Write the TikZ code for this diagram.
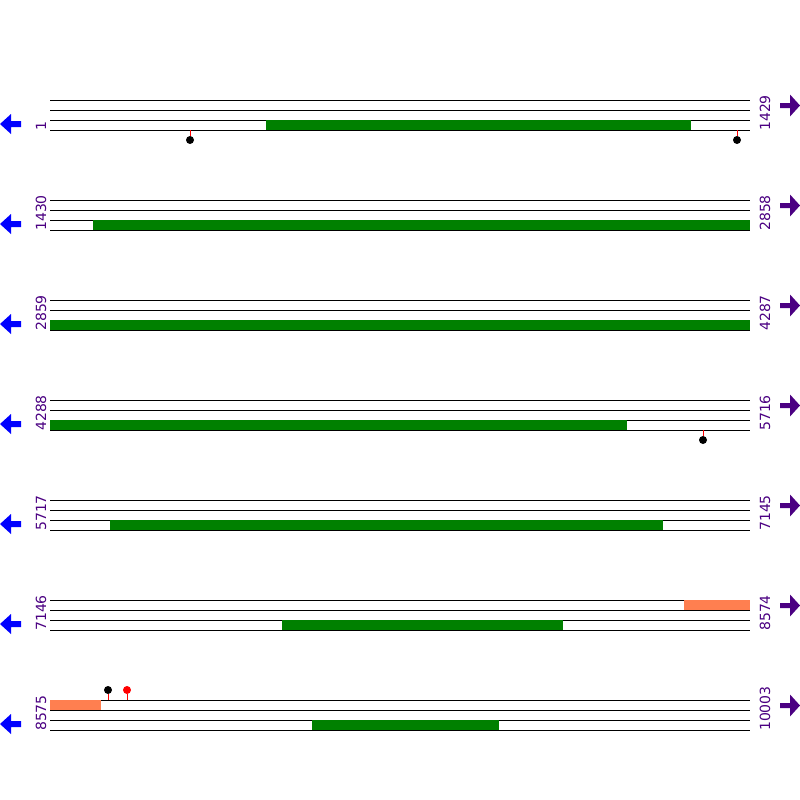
\documentclass[tikz,border=0pt]{standalone}
\usepackage{fontspec}
\setmainfont{DejaVu Sans}
\definecolor{seqpurple}{HTML}{4B0082}
\definecolor{cdsgreen}{HTML}{008000}
\definecolor{utrcoral}{HTML}{FF7F50}
\begin{document}
\begin{tikzpicture}[x=1pt, y=-1pt,
  strand/.style={black, line width=1pt},
  cds/.style={fill=cdsgreen, draw=none},
  utr/.style={fill=utrcoral, draw=none},
  poslabel/.style={text=seqpurple, font=\fontsize{14}{15}\selectfont, rotate=90, anchor=west, inner sep=0pt},
  stickline/.style={red, line width=1pt},
  snpdot/.style={circle, fill=#1, inner sep=0pt, minimum size=8pt},
  snpdot/.default=black]
  \useasboundingbox[fill=white] (0,0) rectangle (800,800);

  % Strands and arrows for each row
  \foreach \r in {0,...,6} {
    \foreach \l in {0,10,20,30}
      \draw[strand] (50,100+100*\r+\l) -- (750,100+100*\r+\l);
    \fill[blue] (0,124+100*\r) -- (11,114+100*\r) -- (11,121+100*\r) -- (21,121+100*\r)
      -- (21,127+100*\r) -- (11,127+100*\r) -- (11,134+100*\r) -- cycle;
    \fill[seqpurple] (780,103+100*\r) -- (790,103+100*\r) -- (790,94.5+100*\r) -- (800,105.5+100*\r)
      -- (790,116.5+100*\r) -- (790,108+100*\r) -- (780,108+100*\r) -- cycle;
  }

  % Position labels
  \node[poslabel] (start1) at (41,131) {1};
  \node[poslabel] (end1) at (765,131) {1429};
  \node[poslabel] (start2) at (41,231) {1430};
  \node[poslabel] (end2) at (765,231) {2858};
  \node[poslabel] (start3) at (41,331) {2859};
  \node[poslabel] (end3) at (765,331) {4287};
  \node[poslabel] (start4) at (41,431) {4288};
  \node[poslabel] (end4) at (765,431) {5716};
  \node[poslabel] (start5) at (41,531) {5717};
  \node[poslabel] (end5) at (765,531) {7145};
  \node[poslabel] (start6) at (41,631) {7146};
  \node[poslabel] (end6) at (765,631) {8574};
  \node[poslabel] (start7) at (41,731) {8575};
  \node[poslabel] (end7) at (765,731) {10003};

  % Coding regions
  \fill[cds] (266,120) rectangle (691,130);
  \fill[cds] (93,220) rectangle (750,230);
  \fill[cds] (50,320) rectangle (750,330);
  \fill[cds] (50,420) rectangle (627,430);
  \fill[cds] (110,520) rectangle (663,530);
  \fill[cds] (282,620) rectangle (563,630);
  \fill[cds] (312,720) rectangle (499,730);

  % UTRs
  \fill[utr] (684,600) rectangle (750,610);
  \fill[utr] (50,700) rectangle (101,710);

  % Variants
  \coordinate (base1) at (190,130);
  \coordinate (base2) at (737,130);
  \coordinate (base3) at (703,430);
  \coordinate (base4) at (108,700);
  \coordinate (base5) at (127,700);
  \node[snpdot] (snp1) at (190,140) {};
  \node[snpdot] (snp2) at (737,140) {};
  \node[snpdot] (snp3) at (703,440) {};
  \node[snpdot] (snp4) at (108,690) {};
  \node[snpdot=red] (snp5) at (127,690) {};
  \draw[stickline] (base1) -- (snp1);
  \draw[stickline] (base2) -- (snp2);
  \draw[stickline] (base3) -- (snp3);
  \draw[stickline] (base4) -- (snp4);
  \draw[stickline] (base5) -- (snp5);
\end{tikzpicture}
\end{document}
